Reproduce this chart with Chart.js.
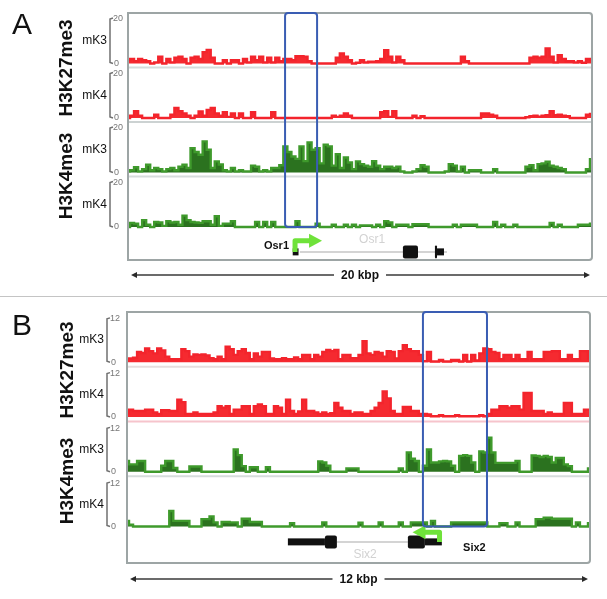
<!DOCTYPE html>
<html>
<head>
<meta charset="utf-8">
<script src="https://cdn.jsdelivr.net/npm/chart.js@4.4.0/dist/chart.umd.min.js"></script>
<style>
  body { margin: 0; background: #fff; }
  #wrap { position: relative; width: 607px; height: 599px; overflow: hidden; font-family: Arial, "Liberation Sans", sans-serif; color: #111; }
  canvas { position: absolute; left: 0; }
  .letter { position: absolute; font-size: 30px; line-height: 1; }
  .mark { position: absolute; font-weight: bold; font-size: 19px; line-height: 1; white-space: nowrap; transform: translate(-50%, -50%) rotate(-90deg); }
  #split { position: absolute; left: 0; top: 296px; width: 607px; height: 1px; background: #c4c4c4; }
</style>
</head>
<body>
<div id="wrap">
  <canvas id="chartA" width="607" height="300" style="top:0"></canvas>
  <canvas id="chartB" width="607" height="299" style="top:300px"></canvas>
  <div id="split"></div>
</div>
<script>
// panel texts
const panelLetters = ['A', 'B'];
const histoneMarks = ['H3K27me3', 'H3K4me3'];
const trackLabels = ['mK3', 'mK4', 'mK3', 'mK4'];
const scaleLabels = ['20 kbp', '12 kbp'];

// window sizes (kbp) and track maxima
const spanA = 20, spanB = 12;
const maxA = 20, maxB = 12;

// panel A coverage (Osr1 locus), 116 bins each
const aK27mK3 = [1.5, 2, 1, 2, 1.5, 1, 0, 0.5, 3, 0,
  2, 0.5, 2.5, 3, 2, 0, 2.5, 3, 2, 5,
  6, 2.5, 0, 0, 1.5, 0, 1.5, 1.5, 0, 2,
  0.5, 3, 1.5, 3, 0.5, 2.5, 0.5, 2.5, 1, 2,
  2, 1.5, 3.2, 3.2, 3, 1, 0, 0, 0, 0,
  0, 0, 2.5, 4.4, 3, 1.5, 0, 0.3, 1.5, 0.5,
  0.8, 0.8, 1, 2, 5.9, 3, 0.5, 3, 1.5, 0,
  0, 0, 0, 0, 0, 0, 0, 0, 0, 0,
  0, 0, 0, 3, 1, 0, 0, 0, 0, 0,
  0, 0, 0, 0, 0, 0, 0, 0, 0, 0,
  2.5, 3, 2.5, 3, 6.6, 3, 0.5, 3.7, 2, 1,
  1, 0.5, 1, 0.3, 2, 1.5];
const aK27mK4 = [0, 1, 3, 1, 0, 0, 0, 1.5, 0, 0,
  0, 1.5, 4.4, 3, 2, 1, 0, 1, 2.9, 1,
  3.5, 4.4, 2, 1, 2.5, 0.5, 2, 0, 2, 0,
  0, 2.5, 0, 0, 0, 0, 2.5, 0, 0, 0,
  0, 0, 0, 0, 0, 0, 0, 0, 0, 0,
  0, 1, 0.5, 1, 2, 1, 0, 0, 0, 0,
  0, 0, 0, 2.5, 3, 0.5, 3, 0, 0, 0,
  0, 1, 0, 0.8, 0, 0, 0, 0, 0, 0,
  0, 0, 0, 0, 0, 0, 0, 0, 2, 2,
  1.5, 1, 0, 0, 0, 0, 0, 0, 0, 0.3,
  0.8, 1, 0.6, 1, 1.2, 3, 1.2, 1.5, 1, 0.8,
  0, 0, 0, 0, 1.5, 1.8];
const aK4mK3 = [0.5, 1, 2.3, 0.5, 1.5, 3.4, 1, 2, 1.5, 0.5,
  1.5, 2, 1, 2.5, 3.4, 2, 10.7, 9, 7.8, 13.7,
  10, 2, 4.9, 3.5, 1, 0.5, 2, 0.5, 1, 0.5,
  0.5, 3, 2.5, 0.5, 1, 0.5, 2, 2, 3.2, 11.5,
  9, 7, 6, 11.5, 5, 13.2, 10, 10.7, 4, 12.2,
  11.5, 3, 8, 2, 6.6, 4.4, 1.5, 4.9, 3.7, 3,
  2.5, 5, 3, 1.5, 2.5, 2.6, 2, 2.6, 0.5, 0,
  0, 0.5, 1.5, 3.2, 2.5, 0, 0, 0, 0, 0.5,
  3.7, 3, 0.5, 2.5, 0, 1, 1, 1, 0, 0,
  0, 1.5, 0, 0, 0, 0, 0, 0, 0, 2.5,
  3.2, 1, 3.7, 4, 4.7, 3, 2.5, 2, 1.5, 0,
  0, 0, 0, 0, 1.5, 5.9];
const aK4mK4 = [0, 1.8, 1.5, 0, 3, 1, 0, 2.2, 2, 0.5,
  2.5, 2, 2.2, 1, 5, 3, 2.2, 2, 1.8, 2.5,
  2.5, 1, 4.7, 0.5, 1.5, 1.5, 2.5, 0, 0, 0,
  0, 0, 2.2, 0, 2.2, 0, 2.2, 0, 0, 0,
  0, 0, 2.6, 0, 0, 0, 0, 1.5, 0, 0,
  0, 1, 0, 0, 1, 0, 1, 0, 0.7, 0.7,
  0.7, 0, 1, 0, 2.6, 2, 0, 1, 1, 1,
  0, 1.2, 1.2, 1.2, 1.2, 0, 0, 0, 0, 0,
  0, 1, 0, 1, 1, 1, 1, 0, 0, 0,
  0, 2.2, 0, 1, 0, 0, 1, 0, 0, 0,
  0, 0, 0, 0, 0, 1.8, 0, 1, 0, 0,
  0, 0, 1, 1, 1, 1.5];

// panel B coverage (Six2 locus), 116 bins each
const bK27mK3 = [1, 1, 1.2, 2.8, 2.5, 3.7, 3, 2.4, 3.7, 3.2,
  1.5, 0.8, 0.8, 0.8, 3.5, 3, 1.5, 2.1, 2, 2.1,
  1.8, 1.1, 0.8, 1.5, 0.8, 4.2, 3.5, 2, 3, 3.5,
  2.5, 0.8, 2.4, 1.5, 2.8, 2.8, 1, 0.8, 0.8, 1.1,
  0.8, 0.8, 1.3, 0.8, 2, 2, 0.8, 2, 1.5, 2.8,
  3.3, 3, 3.3, 0.8, 2, 2, 1.1, 1.1, 2, 5.7,
  2.4, 2, 2.8, 2.5, 1.5, 3, 2.8, 1, 3, 4.6,
  3.5, 3, 3, 2, 0.3, 2.8, 0.2, 0.2, 0.6, 0.2,
  0.2, 0.6, 0.6, 0.2, 2, 0.2, 2, 0.5, 2.4, 3.7,
  3.5, 2.8, 2.5, 0.8, 2, 2, 0.8, 2, 0.8, 0.8,
  2.8, 0.8, 0.8, 0.8, 2.8, 2.8, 3, 3, 0.8, 0.8,
  2, 0.8, 0.8, 3, 3, 1];
const bK27mK4 = [1, 2, 1.6, 1.6, 1.6, 2, 2, 1.2, 0.8, 1.8,
  1.8, 1.6, 1.6, 4.7, 4, 0.8, 0.8, 1.2, 0.8, 0.8,
  0.8, 0.8, 1.2, 2.9, 2.5, 2.9, 0.8, 2, 2, 2.9,
  2.9, 0.8, 2.9, 3.4, 2.9, 0.8, 0.8, 2.9, 2.5, 0.8,
  4.7, 1.6, 0.8, 1.5, 4.7, 1.6, 1.6, 1.2, 0.8, 1.2,
  0.8, 1, 3.8, 2.5, 1.6, 1.6, 0.8, 1.2, 1.2, 0.8,
  0.8, 1.6, 2.5, 3.8, 6.9, 5, 1.6, 0.8, 0.8, 2.7,
  2.7, 1.6, 1.6, 0.8, 0.8, 0.7, 0.2, 0.2, 0.5, 0.2,
  0.2, 0.2, 0.5, 0.2, 0.2, 0.2, 0.2, 0.2, 0.5, 0.2,
  0.8, 2, 2, 2.9, 2.9, 2.5, 2.9, 2.9, 2, 6.5,
  6.5, 1.6, 1.6, 1.6, 0.8, 1.2, 0.8, 0.8, 0.8, 3.8,
  3.8, 0.8, 0.8, 0.8, 2, 2];
const bK4mK3 = [2.9, 2, 2, 2.9, 2.9, 0, 0, 0, 0, 1.6,
  2.9, 2.9, 1, 0, 0, 0, 1.4, 1.4, 1.4, 0,
  0, 0, 0, 0, 0, 0, 0, 6, 4.5, 1.5,
  0, 1.2, 1.2, 0, 0, 1.2, 0, 0, 0, 0,
  0, 0, 0, 0, 0, 0, 0, 0, 2.8, 2.5,
  1.6, 0, 0, 0, 0, 0.9, 0.9, 0.9, 0, 0,
  0, 0, 0, 0, 0, 0, 0, 0, 0.9, 0,
  5.2, 3.5, 2.9, 0, 1.6, 6, 2.5, 2.5, 2.8, 2.9,
  2.8, 1.6, 0, 4.3, 4.5, 4.3, 2.5, 0, 5.5, 5.2,
  9.2, 5.2, 2.4, 2.4, 2.4, 2.4, 2.4, 2.9, 0, 0,
  0, 4.4, 4.3, 4, 4.3, 4, 2.5, 3.7, 3.7, 2,
  1.5, 0, 0, 0, 0, 0.9];
const bK4mK4 = [1.5, 0.5, 0, 0, 0, 0, 0, 0, 0, 0,
  0, 4.2, 1.5, 1.5, 1.5, 1.5, 0, 0, 0, 2,
  2, 2.7, 1.1, 0, 1.2, 1.2, 1.1, 1.1, 0, 2.1,
  2.1, 1.2, 1.2, 1.2, 0, 0, 0, 0, 0, 0,
  0, 0.9, 0, 0, 0, 0, 0, 0, 0, 1.1,
  0, 0, 0, 0, 0, 0, 0, 0, 1, 0,
  0, 0, 0, 1.1, 0, 0, 0, 0, 1.1, 0,
  0, 1.1, 1.1, 1.1, 1.1, 0, 1.5, 0, 0, 0,
  0, 1.1, 1.1, 1.1, 1.1, 1.1, 1.1, 1.1, 1.1, 1.1,
  0, 0, 0, 0.9, 0.9, 0, 0, 1.1, 0, 0,
  0, 0, 2, 2, 2.4, 2.4, 2.1, 2.1, 2.1, 2.1,
  2.1, 0, 1.1, 0, 0, 0.9];

// gene models (kbp from window start)
const osr1Intron = [7.41, 13.75];
const osr1Thick = [[11.85, 12.5], [13.23, 13.32]];
const osr1Thin = [[7.1, 7.35], [13.32, 13.62]];
const osr1Tss = 7.2;
const six2Intron = [5.44, 7.28];
const six2Thick = [[5.13, 5.44], [7.28, 7.72]];
const six2Thin = [[4.17, 5.13], [7.72, 8.16]];
const six2Tss = 8.1;

// highlighted promoter windows (kbp)
const boxA = [6.77, 8.15];
const boxB = [7.67, 9.33];

const RED = ['#f3242c', '#f52a30'];
const GREEN = ['#3f9a2c', '#2b721f'];

// what the decor plugin draws on each panel
const decor = {
  chartA: {
    max: maxA, bracketX: 110, labelX: 107,
    sepColors: ['#d6dcdc', '#ccd2d2', '#d6dcdc'],
    box: boxA, scaleLabel: scaleLabels[0], barGap: 15,
    gene: { name: 'Osr1', intron: osr1Intron, thick: osr1Thick, thin: osr1Thin, tss: osr1Tss, strand: 1,
      level: 0.72, arrowLevel: 0.34, nameAt: 6.94, nameAlign: 'right', nameLevel: 0.52, bodyAt: 10.52, bodyLevel: 0.31 }
  },
  chartB: {
    max: maxB, bracketX: 107, labelX: 104,
    sepColors: ['#e6dede', '#f6c4cc', '#d6dcdc'],
    box: boxB, scaleLabel: scaleLabels[1], barGap: 16,
    gene: { name: 'Six2', intron: six2Intron, thick: six2Thick, thin: six2Thin, tss: six2Tss, strand: -1,
      level: 0.34, arrowLevel: 0.04, nameAt: 8.71, nameAlign: 'left', nameLevel: 0.53, bodyAt: 6.17, bodyLevel: 0.75 }
  }
};

function seg(ctx, x1, y1, x2, y2) {
  ctx.beginPath();
  ctx.moveTo(x1, y1);
  ctx.lineTo(x2, y2);
  ctx.stroke();
}

const trackDecor = {
  id: 'trackDecor',
  afterDatasetsDraw(chart) {
    const o = decor[chart.canvas.id];
    const ctx = chart.ctx, area = chart.chartArea, xs = chart.scales.x;
    const px = v => xs.getPixelForValue(v);
    const ids = ['y1', 'y2', 'y3', 'y4'];
    ctx.save();

    // separators, brackets, tick values, track names
    ids.forEach((id, i) => {
      const s = chart.scales[id];
      if (i < ids.length - 1) {
        ctx.strokeStyle = o.sepColors[i];
        ctx.lineWidth = 2;
        seg(ctx, area.left, s.bottom, area.right, s.bottom);
      }
      const yTop = s.getPixelForValue(o.max), y0 = s.getPixelForValue(0);
      ctx.strokeStyle = '#707070';
      ctx.lineWidth = 1.5;
      ctx.beginPath();
      ctx.moveTo(o.bracketX + 3, yTop);
      ctx.lineTo(o.bracketX, yTop + 1);
      ctx.lineTo(o.bracketX, y0 - 1);
      ctx.lineTo(o.bracketX + 3, y0);
      ctx.stroke();
      ctx.fillStyle = '#777';
      ctx.font = '9px Arial';
      ctx.textAlign = 'left';
      ctx.textBaseline = 'middle';
      ctx.fillText(String(o.max), o.bracketX + 3, yTop + 1);
      ctx.fillText('0', o.bracketX + 4, y0);
      ctx.fillStyle = '#111';
      ctx.font = '12px Arial';
      ctx.textAlign = 'right';
      ctx.fillText(trackLabels[i], o.labelX, (yTop + y0) / 2);
    });

    // frame
    ctx.strokeStyle = '#9da5a5';
    ctx.lineWidth = 2;
    ctx.beginPath();
    ctx.roundRect(area.left, area.top, area.right - area.left, area.bottom - area.top, [0, 3, 3, 0]);
    ctx.stroke();

    // gene model
    const g = chart.scales.g, gn = o.gene;
    const gy = g.getPixelForValue(gn.level);
    ctx.strokeStyle = '#d4d4d4';
    ctx.lineWidth = 2;
    seg(ctx, px(gn.intron[0]), gy, px(gn.intron[1]), gy);
    ctx.fillStyle = '#111';
    gn.thin.forEach(([a, b]) => ctx.fillRect(px(a), gy - 3.5, px(b) - px(a), 7));
    gn.thick.forEach(([a, b]) => {
      ctx.beginPath();
      ctx.roundRect(px(a), gy - 6.5, px(b) - px(a), 13, 2);
      ctx.fill();
    });

    // TSS arrow
    const tx = px(gn.tss), ay = g.getPixelForValue(gn.arrowLevel), d = gn.strand;
    ctx.strokeStyle = '#6fe23a';
    ctx.fillStyle = '#6fe23a';
    ctx.lineWidth = 5;
    ctx.lineJoin = 'round';
    ctx.beginPath();
    ctx.moveTo(tx, gy);
    ctx.lineTo(tx, ay);
    ctx.lineTo(tx + d * 15, ay);
    ctx.stroke();
    ctx.beginPath();
    ctx.moveTo(tx + d * 14, ay - 7);
    ctx.lineTo(tx + d * 27, ay);
    ctx.lineTo(tx + d * 14, ay + 7);
    ctx.closePath();
    ctx.fill();

    // gene names
    ctx.font = 'bold 11px Arial';
    ctx.fillStyle = '#111';
    ctx.textAlign = gn.nameAlign;
    ctx.fillText(gn.name, px(gn.nameAt), g.getPixelForValue(gn.nameLevel));
    ctx.font = '12px Arial';
    ctx.fillStyle = '#d2d2d2';
    ctx.textAlign = 'center';
    ctx.fillText(gn.name, px(gn.bodyAt), g.getPixelForValue(gn.bodyLevel));

    // highlighted window
    const bx1 = px(o.box[0]), bx2 = px(o.box[1]);
    const by2 = chart.scales.y4.getPixelForValue(0);
    ctx.strokeStyle = '#3a5db3';
    ctx.lineWidth = 2;
    ctx.beginPath();
    ctx.roundRect(bx1, area.top, bx2 - bx1, by2 - area.top, 3);
    ctx.stroke();

    // scale bar
    const sy = area.bottom + o.barGap, mid = (area.left + area.right) / 2;
    const l = area.left + 3, r = area.right - 2;
    ctx.font = 'bold 12px Arial';
    const half = ctx.measureText(o.scaleLabel).width / 2 + 7;
    ctx.strokeStyle = '#3a3a3a';
    ctx.fillStyle = '#2a2a2a';
    ctx.lineWidth = 1.5;
    seg(ctx, l + 4, sy, mid - half, sy);
    seg(ctx, mid + half, sy, r - 4, sy);
    ctx.beginPath();
    ctx.moveTo(l, sy); ctx.lineTo(l + 6, sy - 3); ctx.lineTo(l + 6, sy + 3); ctx.closePath();
    ctx.moveTo(r, sy); ctx.lineTo(r - 6, sy - 3); ctx.lineTo(r - 6, sy + 3); ctx.closePath();
    ctx.fill();
    ctx.fillStyle = '#111';
    ctx.textAlign = 'center';
    ctx.textBaseline = 'middle';
    ctx.fillText(o.scaleLabel, mid, sy + 1);
    ctx.restore();
  }
};

function makePanel(id, span, tracks, colors, cfg) {
  const n = tracks[0].length;
  const datasets = tracks.map((vals, i) => ({
    data: vals.map((v, j) => ({ x: j * span / (n - 1), y: v })),
    xAxisID: 'x',
    yAxisID: 'y' + (i + 1),
    borderColor: colors[i][0],
    backgroundColor: colors[i][1],
    borderWidth: 2.4,
    pointRadius: 0,
    fill: 'origin',
    stepped: 'middle'
  }));
  const scales = { x: { type: 'linear', display: false, min: 0, max: span } };
  tracks.forEach((v, i) => {
    scales['y' + (i + 1)] = {
      type: 'linear', display: false, position: 'left',
      stack: 'rows', stackWeight: cfg.trackWeight, weight: 10 - i,
      min: cfg.yMin, max: cfg.yMax
    };
  });
  scales.g = { type: 'linear', display: false, position: 'left', stack: 'rows', stackWeight: cfg.geneWeight, weight: 1, min: 0, max: 1, reverse: true };

  return new Chart(document.getElementById(id), {
    type: 'line',
    data: { datasets },
    options: {
      responsive: false,
      animation: false,
      layout: { padding: cfg.padding },
      plugins: { legend: { display: false }, tooltip: { enabled: false } },
      scales
    },
    plugins: [trackDecor]
  });
}

const chartA = makePanel('chartA', spanA, [aK27mK3, aK27mK4, aK4mK3, aK4mK4], [RED, RED, GREEN, GREEN], {
  trackWeight: 54.5, geneWeight: 29, yMin: -1.76, yMax: 22.2,
  padding: { left: 128, right: 15, top: 13, bottom: 40 }
});
const chartB = makePanel('chartB', spanB, [bK27mK3, bK27mK4, bK4mK3, bK4mK4], [RED, RED, GREEN, GREEN], {
  trackWeight: 54.75, geneWeight: 32, yMin: -1.23, yMax: 13.6,
  padding: { left: 127, right: 17, top: 12, bottom: 36 }
});

// panel letters and rotated histone mark labels
const wrap = document.getElementById('wrap');
const letterTops = [9, 310];
panelLetters.forEach((t, i) => {
  const el = document.createElement('div');
  el.className = 'letter';
  el.style.left = '12px';
  el.style.top = letterTops[i] + 'px';
  el.textContent = t;
  wrap.appendChild(el);
});
const markCenters = [[65, 67.5], [65, 175.5], [66, 369.5], [66, 480.5]];
markCenters.forEach(([cx, cy], i) => {
  const el = document.createElement('div');
  el.className = 'mark';
  el.style.left = cx + 'px';
  el.style.top = cy + 'px';
  el.textContent = histoneMarks[i % 2];
  wrap.appendChild(el);
});
</script>
</body>
</html>
